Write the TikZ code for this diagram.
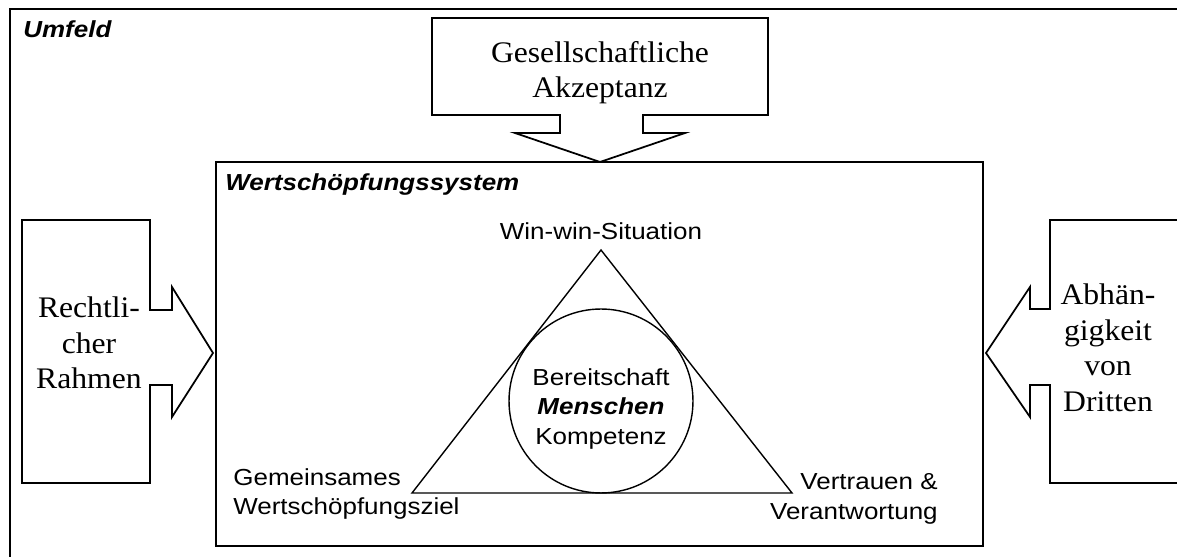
\documentclass[tikz,border=0pt]{standalone}
\usepackage{fontspec}
\setmainfont{Liberation Serif}[FakeStretch=1.06]
\setsansfont{Liberation Sans}[FakeStretch=1.12]

\tikzset{
	titel/.style = {font = \sffamily\bfseries\itshape\fontsize{13.2}{17}\selectfont, inner sep = 0pt},
	sanstext/.style = {font = \sffamily\fontsize{13.2}{17}\selectfont, inner sep = 0pt},
	serifentext/.style = {font = \fontsize{17}{20.2}\selectfont, inner sep = 0pt, align = center},
	aussenrahmen/.style = {line width = 1.6pt},
	systemrahmen/.style = {line width = 1.2pt},
	blockpfeil/.style = {line width = 1pt, line join = miter},
	linie/.style = {line width = 0.8pt},
}

\begin{document}
\begin{tikzpicture}[x = 0.02cm, y = -0.02cm]
	
	\useasboundingbox (0,0) rectangle (1177,557);
	\clip (0,0) rectangle (1177,557);
	
	% Umfeld
	\draw[aussenrahmen] (10,9) rectangle (1200,580);
	\node[titel, anchor = base west, name = umfeld] at (23,38) {Umfeld};
	
	% Wertschoepfungssystem
	\draw[systemrahmen] (216,162) rectangle (983,546);
	\node[titel, anchor = base west, name = system] at (225,191) {Wertschöpfungssystem};
	
	% Pfeil oben
	\draw[blockpfeil]
		(432,18) -- (768,18) -- (768,115) -- (643,115) -- (643,133) -- (685,133)
		-- (600,162) -- (515,133) -- (560,133) -- (560,115) -- (432,115) -- cycle;
	\node[serifentext, name = akzeptanz] at (600,72.5) {Gesellschaftliche\\Akzeptanz};
	
	% Pfeil links
	\draw[blockpfeil]
		(22,220) -- (150,220) -- (150,310) -- (172,310) -- (172,287)
		-- (213,353) -- (172,417) -- (172,385) -- (150,385) -- (150,483) -- (22,483) -- cycle;
	\node[serifentext, name = recht] at (89,343) {Rechtli-\\cher\\Rahmen};
	
	% Pfeil rechts
	\draw[blockpfeil]
		(1200,220) -- (1050,220) -- (1050,309) -- (1030,309) -- (1030,287)
		-- (986,353) -- (1030,417) -- (1030,385) -- (1050,385) -- (1050,483) -- (1200,483);
	\node[serifentext, name = dritte] at (1108,348) {Abhän-\\gigkeit\\von\\Dritten};
	
	% Dreieck
	\coordinate (oben) at (601,250);
	\coordinate (links) at (412,493);
	\coordinate (rechts) at (792,493);
	\draw[linie] (oben) -- (links) -- (rechts) -- cycle;
	
	\node[
		circle,
		draw,
		linie,
		minimum size = 3.68cm,
		inner sep = 0pt,
		name = kreis,
	] at (601,401) {};
	\node[sanstext, align = center, name = menschen] at (601,409)
		{Bereitschaft\\\textbf{\textit{Menschen}}\\Kompetenz};
	
	\node[sanstext, anchor = base, name = winwin] at (601,240) {Win-win-Situation};
	\node[sanstext, align = left, anchor = west, name = ziel] at (233,494)
		{Gemeinsames\\Wertschöpfungsziel};
	\node[sanstext, align = right, anchor = east, name = vertrauen] at (938,499)
		{Vertrauen \&\\Verantwortung};
	
\end{tikzpicture}
\end{document}
